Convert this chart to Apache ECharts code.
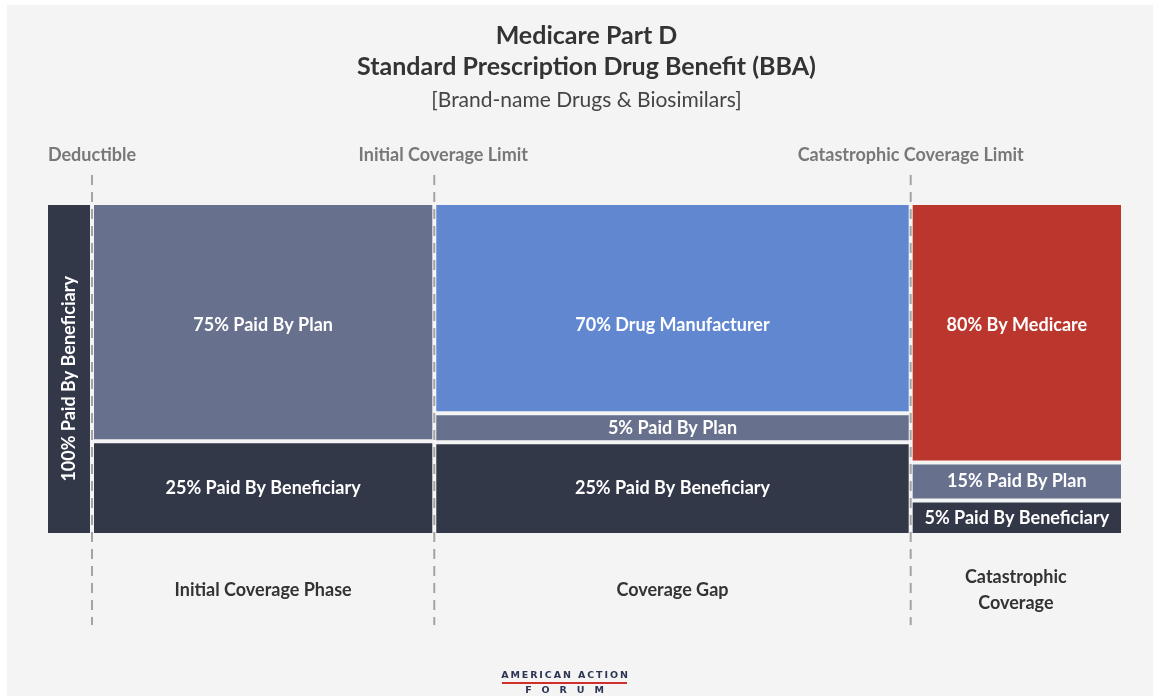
<!DOCTYPE html>
<html>
<head>
<meta charset="utf-8">
<script src="https://cdn.jsdelivr.net/npm/echarts@6/dist/echarts.min.js"></script>
<style>
  html, body { margin: 0; padding: 0; background: #ffffff; }
  #chart { position: absolute; left: 7px; top: 5px; width: 1146px; height: 691px; }
</style>
</head>
<body>
<div id="chart"></div>
<script>
// ---- data ----
const phases = ['Deductible', 'Initial Coverage Phase', 'Coverage Gap', 'Catastrophic\nCoverage'];
const phaseWidths = [4.1, 31.9, 44.4, 19.6];           // share of the horizontal axis
const limitLabels = ['Deductible', 'Initial Coverage Limit', 'Catastrophic Coverage Limit'];
const payers = ['Beneficiary', 'Plan', 'Drug Manufacturer', 'Medicare'];
// drawn share of each column, bottom to top (as drawn in the reference)
const beneficiaryShare = [100, 28, 27.7, 9.9];
const planShare = [0, 72, 8.8, 11.6];
const manufacturerShare = [0, 0, 63.5, 0];
const medicareShare = [0, 0, 0, 78.5];
const beneficiaryLabels = ['100% Paid By Beneficiary', '25% Paid By Beneficiary', '25% Paid By Beneficiary', '5% Paid By Beneficiary'];
const planLabels = ['', '75% Paid By Plan', '5% Paid By Plan', '15% Paid By Plan'];
const manufacturerLabels = ['', '', '70% Drug Manufacturer', ''];
const medicareLabels = ['', '', '', '80% By Medicare'];
const payerColors = ['#333849', '#67708d', '#6287d1', '#bb362d'];

// ---- style constants ----
const FONT = 'Lato, "Open Sans", sans-serif';
const YMIN = -28.05, YMAX = 109.15;
const TS = '\u2009';
const TALL_LABEL_Y = 63.4;     // labels of the big upper blocks sit on one line
const DEDUCTIBLE_LABEL_Y = 47;
const limitLabelShift = [0, 9, 0];

// ---- build blocks ----
const shares = [beneficiaryShare, planShare, manufacturerShare, medicareShare];
const labels = [beneficiaryLabels, planLabels, manufacturerLabels, medicareLabels];
const blocks = [];
const boundaries = [];
const phaseMids = [];
let cum = 0;
phases.forEach((ph, i) => {
  const x0 = cum, x1 = cum + phaseWidths[i];
  let y = 0;
  payers.forEach((p, k) => {
    const s = shares[k][i];
    if (s > 0) {
      blocks.push({ value: [x0, x1, y, y + s, k, i], label: labels[k][i] });
      y += s;
    }
  });
  phaseMids.push((x0 + x1) / 2);
  cum = x1;
  if (i < phases.length - 1) boundaries.push(x1);
});

const chart = echarts.init(document.getElementById('chart'));
chart.setOption({
  backgroundColor: '#f4f4f4',
  animation: false,
  grid: { left: 41, right: 32, top: 170, bottom: 71 },
  xAxis: { type: 'value', min: 0, max: 100, show: false },
  yAxis: { type: 'value', min: YMIN, max: YMAX, show: false },
  graphic: [
    { type: 'text', x: 579.5, y: 31, style: { text: 'Medicare Part D', font: 'bold 25px ' + FONT, fill: '#333333', textAlign: 'center', textVerticalAlign: 'middle' } },
    { type: 'text', x: 579.5, y: 62, style: { text: 'Standard Prescription Drug Benefit (BBA)', font: 'bold 25px ' + FONT, fill: '#333333', textAlign: 'center', textVerticalAlign: 'middle' } },
    { type: 'text', x: 579.5, y: 95, style: { text: '[Brand-name Drugs & Biosimilars]', font: '21px ' + FONT, fill: '#444444', textAlign: 'center', textVerticalAlign: 'middle' } },
    { type: 'text', x: 557.5, y: 671, style: { text: 'AMERICAN ACTION'.split('').join(TS), font: 'bold 9.5px "DejaVu Sans", sans-serif', fill: '#2d3454', textAlign: 'center', textVerticalAlign: 'middle' } },
    { type: 'line', shape: { x1: 495, y1: 678, x2: 620, y2: 678 }, style: { stroke: '#d0302c', lineWidth: 2 } },
    { type: 'text', x: 557.5, y: 686, style: { text: 'F   O   R   U   M', font: 'bold 9.5px "DejaVu Sans", sans-serif', fill: '#2d3454', textAlign: 'center', textVerticalAlign: 'middle' } }
  ],
  series: [
    {
      type: 'custom',
      name: 'limits',
      z: 1,
      data: boundaries.map((b, i) => ({ value: [b], label: limitLabels[i] })),
      renderItem: function (params, api) {
        const x = api.value(0);
        const top = api.coord([x, YMAX]);
        const bot = api.coord([x, YMIN]);
        return {
          type: 'group',
          children: [
            { type: 'line', shape: { x1: top[0], y1: top[1], x2: bot[0], y2: bot[1] },
              style: { stroke: '#a3a3a3', lineWidth: 2, lineDash: [10, 7] } },
            { type: 'text', x: top[0] + limitLabelShift[params.dataIndex], y: top[1] - 20,
              style: { text: limitLabels[params.dataIndex], font: 'bold 18px ' + FONT, fill: '#787878', textAlign: 'center', textVerticalAlign: 'middle' } }
          ]
        };
      }
    },
    {
      type: 'custom',
      name: 'blocks',
      z: 2,
      data: blocks,
      renderItem: function (params, api) {
        const x0 = api.value(0), x1 = api.value(1), y0 = api.value(2), y1 = api.value(3);
        const k = api.value(4), ph = api.value(5);
        const tl = api.coord([x0, y1]);
        const br = api.coord([x1, y0]);
        const left = tl[0] + (x0 > 0.01 ? 2 : 0);
        const right = br[0] - (x1 < 99.99 ? 2 : 0);
        const top = tl[1] + (y1 < 99.99 ? 2 : 0);
        const bottom = br[1] - (y0 > 0.01 ? 2 : 0);
        let ly = (bottom - top) / 2;
        if (ph === 0) {
          ly = api.coord([0, DEDUCTIBLE_LABEL_Y])[1] - top;
        } else if (y1 > 99.99 && y1 - y0 > 50) {
          ly = api.coord([0, TALL_LABEL_Y])[1] - top;
        }
        return {
          type: 'rect',
          shape: { x: left, y: top, width: right - left, height: bottom - top },
          style: { fill: payerColors[k] },
          textContent: {
            style: { text: blocks[params.dataIndex].label, fill: '#ffffff', font: 'bold 18px ' + FONT, align: 'center', verticalAlign: 'middle' }
          },
          textConfig: { position: [(right - left) / 2, ly], rotation: ph === 0 ? Math.PI / 2 : 0 }
        };
      }
    },
    {
      type: 'custom',
      name: 'phases',
      z: 3,
      data: phaseMids.map((m, i) => ({ value: [m, -17.5], name: phases[i] })).slice(1),
      renderItem: function (params, api) {
        const c = api.coord([api.value(0), api.value(1)]);
        return {
          type: 'text', x: c[0], y: c[1],
          style: { text: phases[params.dataIndex + 1], font: 'bold 18px ' + FONT, fill: '#333333', textAlign: 'center', textVerticalAlign: 'middle', lineHeight: 26 }
        };
      }
    }
  ]
});
</script>
</body>
</html>
